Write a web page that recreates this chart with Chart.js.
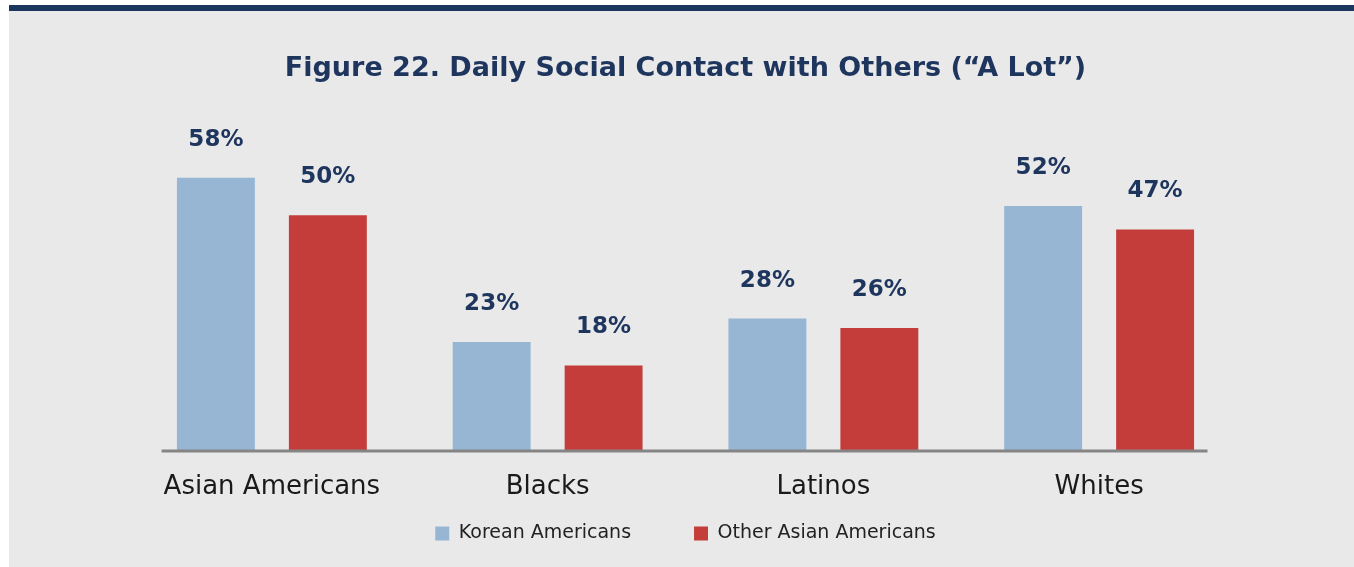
<!DOCTYPE html>
<html>
<head>
<meta charset="utf-8">
<script src="https://cdn.jsdelivr.net/npm/chart.js@4.4.1/dist/chart.umd.min.js"></script>
<style>
  html, body { margin: 0; padding: 0; background: #ffffff; }
  body { width: 1354px; height: 567px; position: relative; overflow: hidden; }
  #panel { position: absolute; left: 9px; top: 5px; width: 1345px; height: 562px;
           background: #e9e9e9; border-top: 6px solid #1d3660; box-sizing: border-box; }
  #wrap { position: absolute; left: 0; top: 0; width: 1354px; height: 567px; }
</style>
</head>
<body>
<div id="panel"></div>
<div id="wrap"><canvas id="chart" width="1354" height="567"></canvas></div>
<script>
const categories = ["Asian Americans", "Blacks", "Latinos", "Whites"];
const seriesNames = ["Korean Americans", "Other Asian Americans"];
const koreanAmericans = [58, 23, 28, 52];
const otherAsianAmericans = [50, 18, 26, 47];

const NAVY = "#1e355e";
const BLUE = "#96b6d4";
const RED = "#c43d3a";
const FONT = "'DejaVu Sans', sans-serif";

// Value labels above each bar
const valueLabels = {
  id: "valueLabels",
  afterDatasetsDraw(chart) {
    const ctx = chart.ctx;
    ctx.save();
    ctx.font = "bold 23px " + FONT;
    ctx.fillStyle = NAVY;
    ctx.textAlign = "center";
    ctx.textBaseline = "middle";
    chart.data.datasets.forEach((ds, i) => {
      chart.getDatasetMeta(i).data.forEach((bar, j) => {
        ctx.fillText(ds.data[j] + "%", bar.x, bar.y - 38);
      });
    });
    ctx.restore();
  }
};

// Baseline under the bars, spanning a little past the outer bars
const baseline = {
  id: "baseline",
  afterDatasetsDraw(chart) {
    const x = chart.scales.x, y = chart.scales.y;
    const step = x.getPixelForValue(1) - x.getPixelForValue(0);
    const left = x.getPixelForValue(0) - step * 0.4;
    const right = x.getPixelForValue(categories.length - 1) + step * 0.393;
    const yy = y.getPixelForValue(0);
    const ctx = chart.ctx;
    ctx.save();
    ctx.strokeStyle = "#858585";
    ctx.lineWidth = 3;
    ctx.beginPath();
    ctx.moveTo(left, yy + 1);
    ctx.lineTo(right, yy + 1);
    ctx.stroke();
    ctx.restore();
  }
};

// The x axis is kept short so the legend can sit close below it;
// give its category labels room to draw past that box.
const labelRoom = {
  id: "labelRoom",
  afterLayout(chart) {
    const s = chart.scales.x;
    s.bottom = s.top + 60;
  }
};

new Chart(document.getElementById("chart"), {
  type: "bar",
  data: {
    labels: categories,
    datasets: [
      { label: seriesNames[0], data: koreanAmericans, backgroundColor: BLUE },
      { label: seriesNames[1], data: otherAsianAmericans, backgroundColor: RED }
    ]
  },
  options: {
    responsive: false,
    animation: false,
    events: [],
    categoryPercentage: 0.812,
    barPercentage: 0.696,
    layout: { padding: { left: 134, right: 117, top: 0, bottom: 14 } },
    scales: {
      x: {
        offset: true,
        grid: { display: false },
        border: { display: false },
        ticks: { color: "#1a1a1a", font: { family: FONT, size: 26 }, padding: 14 },
        afterFit(scale) { scale.height = 11; }
      },
      y: { display: false, min: 0, max: 60 }
    },
    plugins: {
      title: {
        display: true,
        text: "Figure 22. Daily Social Contact with Others (\u201cA Lot\u201d)",
        color: NAVY,
        font: { family: FONT, size: 27, weight: "bold" },
        padding: { top: 53, bottom: 83 }
      },
      legend: {
        position: "bottom",
        labels: {
          color: "#222222",
          font: { family: FONT, size: 19 },
          boxWidth: 14, boxHeight: 14, padding: 63
        }
      },
      tooltip: { enabled: false }
    }
  },
  plugins: [valueLabels, baseline, labelRoom]
});
</script>
</body>
</html>
